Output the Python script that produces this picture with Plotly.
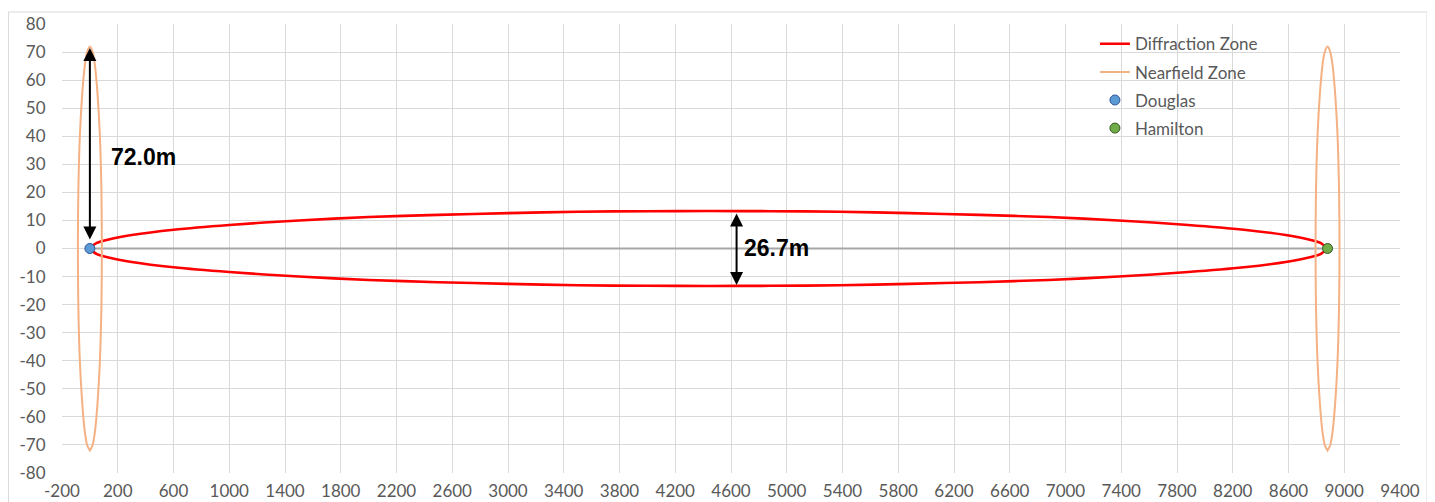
import plotly.graph_objects as go

# ---- data ----
douglas_x, douglas_y = 0, 0
hamilton_x, hamilton_y = 8880, 0

# diffraction (Fresnel) zone: upper half-width (m) along the path (m)
diff_x = [0, 50, 150, 300, 600, 1000, 1500, 2000, 2500, 3000, 3500, 4000, 4440,
          4880, 5380, 5880, 6380, 6880, 7380, 7880, 8280, 8580, 8730, 8830, 8880]
diff_half = [0, 2.0, 3.4, 4.8, 6.7, 8.4, 10.0, 11.2, 12.0, 12.6, 13.1, 13.3, 13.35,
             13.3, 13.1, 12.6, 12.0, 11.2, 10.0, 8.4, 6.7, 4.8, 3.4, 2.0, 0]

# nearfield zone outline (offset from station in x, height in y)
nf_y = [72, 70, 65, 55, 40, 20, 0, -20, -40, -55, -65, -70, -72]
nf_dx = [0, 20, 37, 55, 72, 83, 86, 83, 72, 55, 37, 20, 0]

x_ticks = list(range(-200, 9401, 400))
y_ticks = list(range(-80, 81, 10))

label_height = "72.0m"
label_width = "26.7m"
nearfield_height = 72.0
diffraction_width = 26.7
mid_arrow_x = 4640

# ---- build closed outlines ----
diff_loop_x = diff_x + diff_x[::-1]
diff_loop_y = diff_half + [-v for v in diff_half[::-1]]


def nearfield(cx):
    xs = [cx + d for d in nf_dx] + [cx - d for d in nf_dx[::-1]]
    ys = nf_y + nf_y[::-1]
    return xs, ys


nf1x, nf1y = nearfield(douglas_x)
nf2x, nf2y = nearfield(hamilton_x)

TXT = "#595959"
FONT = "Lato"

fig = go.Figure()

# line of sight
fig.add_trace(go.Scatter(x=[douglas_x, hamilton_x], y=[douglas_y, hamilton_y],
                         mode="lines", line=dict(color="#A6A6A6", width=2),
                         showlegend=False, hoverinfo="skip"))

fig.add_trace(go.Scatter(x=diff_loop_x, y=diff_loop_y, mode="lines",
                         name="Diffraction Zone", legendgroup="a",
                         line=dict(color="#FF0000", width=2.6, shape="spline", smoothing=0.6)))

fig.add_trace(go.Scatter(x=nf1x, y=nf1y, mode="lines", name="Nearfield Zone",
                         legendgroup="b",
                         line=dict(color="#F4B183", width=2, shape="spline", smoothing=0.8)))
fig.add_trace(go.Scatter(x=nf2x, y=nf2y, mode="lines", name="Nearfield Zone",
                         legendgroup="b", showlegend=False,
                         line=dict(color="#F4B183", width=2, shape="spline", smoothing=0.8)))

fig.add_trace(go.Scatter(x=[douglas_x], y=[douglas_y], mode="markers", name="Douglas",
                         legendgroup="c",
                         marker=dict(size=10, color="#5B9BD5",
                                     line=dict(color="#2F5597", width=1))))
fig.add_trace(go.Scatter(x=[hamilton_x], y=[hamilton_y], mode="markers", name="Hamilton",
                         legendgroup="d",
                         marker=dict(size=10, color="#70AD47",
                                     line=dict(color="#385723", width=1))))

# arrows
fig.add_annotation(x=douglas_x, y=0, ax=douglas_x, ay=nearfield_height,
                   xref="x", yref="y", axref="x", ayref="y", text="",
                   showarrow=True, arrowhead=2, arrowside="end+start", arrowsize=1.3,
                   arrowwidth=2, arrowcolor="black", standoff=9, startstandoff=0)
fig.add_annotation(x=mid_arrow_x, y=-diffraction_width / 2, ax=mid_arrow_x,
                   ay=diffraction_width / 2,
                   xref="x", yref="y", axref="x", ayref="y", text="",
                   showarrow=True, arrowhead=2, arrowside="end+start", arrowsize=1.3,
                   arrowwidth=2, arrowcolor="black", standoff=1, startstandoff=1)

fig.add_annotation(x=385, y=32.6, xref="x", yref="y", text="<b>" + label_height + "</b>",
                   showarrow=False, xanchor="center", yanchor="middle",
                   font=dict(family="Liberation Sans", size=23, color="black"))
fig.add_annotation(x=4927, y=0.3, xref="x", yref="y", text="<b>" + label_width + "</b>",
                   showarrow=False, xanchor="center", yanchor="middle",
                   font=dict(family="Liberation Sans", size=23, color="black"))

# chart border
fig.add_shape(type="rect", xref="paper", yref="paper", x0=-0.0400, x1=1.0202,
              y0=-0.12, y1=1.0267, line=dict(color="#D9D9D9", width=1), layer="below")

# the page body adds an 8px margin, so the figure is sized to fit the window
fig.update_layout(
    width=1427, height=494, autosize=False,
    margin=dict(l=54, r=35, t=16, b=29),
    paper_bgcolor="white", plot_bgcolor="white",
    font=dict(family=FONT, size=17, color=TXT),
    showlegend=True,
    legend=dict(x=0.772, y=0.995, xanchor="left", yanchor="top",
                bgcolor="rgba(255,255,255,0)", font=dict(size=17, color=TXT),
                traceorder="grouped", tracegroupgap=3, itemwidth=30),
    xaxis=dict(range=[-200, 9400], tickmode="array", tickvals=x_ticks,
               ticktext=[str(v) for v in x_ticks], showgrid=True, automargin=False,
               gridcolor="#D9D9D9", gridwidth=1, zeroline=False, showline=False,
               ticks="outside", ticklen=3, tickcolor="rgba(0,0,0,0)",
               tickfont=dict(size=17, color=TXT)),
    yaxis=dict(range=[-80, 80], tickmode="array", tickvals=y_ticks,
               ticktext=[str(v) for v in y_ticks], showgrid=True, automargin=False,
               gridcolor="#D9D9D9", gridwidth=1, zeroline=False, showline=False,
               ticks="outside", ticklen=12, tickcolor="rgba(0,0,0,0)",
               tickfont=dict(size=17, color=TXT)),
)

fig.write_html("out.html")
